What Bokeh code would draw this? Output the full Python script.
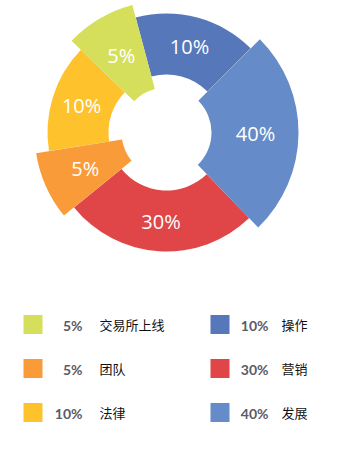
import math
from bokeh.plotting import figure
from bokeh.models import Range1d, ColumnDataSource
from bokeh.core.properties import value
from bokeh.embed import file_html
from bokeh.resources import INLINE

# ---- data (clockwise from the top-left lime slice) ----
names = ["交易所上线", "操作", "发展", "营销", "团队", "法律"]
percents = [5, 10, 40, 30, 5, 10]
sweeps = [31, 60, 91, 95, 30, 53]  # angular size of each slice as drawn (degrees)
colors = ["#D5DF5B", "#5677B9", "#658BC8", "#E04547", "#F99B39", "#FEC22D"]
exploded = [True, False, True, False, True, False]
legend_order = [0, 4, 5, 1, 3, 2]  # column 1 then column 2

# ---- layout constants (page pixel coordinates) ----
W, H = 346, 448
PAGE_H = 464
OFF = 0  # page offset of the plot frame
CX, CY = 166, 132
R_IN, R_OUT = 58, 119
R_IN_X, R_OUT_X = 45, 132
R_LABEL = 89
START_CW = -46  # degrees clockwise from 12 o'clock


def py(y_img):
    return PAGE_H - y_img


p = figure(width=W, height=H, output_backend="svg", toolbar_location=None,
           x_range=Range1d(OFF, OFF + W), y_range=Range1d(PAGE_H - OFF - H, PAGE_H - OFF),
           min_border=0, outline_line_color=None)
p.axis.visible = False
p.grid.visible = False
p.background_fill_color = "white"
p.border_fill_color = "white"

starts, ends, mids = [], [], []
acc = START_CW
for s in sweeps:
    starts.append(acc)
    ends.append(acc + s)
    mids.append(acc + s / 2)
    acc += s

for pass_exploded in (False, True):
    idx = [i for i in range(len(names)) if exploded[i] == pass_exploded]
    src = ColumnDataSource(dict(
        x=[CX] * len(idx), y=[py(CY)] * len(idx),
        start=[math.radians(90 - starts[i]) for i in idx],
        end=[math.radians(90 - ends[i]) for i in idx],
        color=[colors[i] for i in idx],
    ))
    p.annular_wedge(x="x", y="y",
                    inner_radius=R_IN_X if pass_exploded else R_IN,
                    outer_radius=R_OUT_X if pass_exploded else R_OUT,
                    start_angle="start", end_angle="end", direction="clock",
                    fill_color="color", line_color=None, source=src)

lab_src = ColumnDataSource(dict(
    x=[CX + R_LABEL * math.sin(math.radians(m)) for m in mids],
    y=[py(CY) + R_LABEL * math.cos(math.radians(m)) for m in mids],
    t=[f"{v}%" for v in percents],
))
p.text(x="x", y="y", text="t", source=lab_src, text_color="white",
       text_font=value("Open Sans"), text_font_size="20px",
       text_align="center", text_baseline="middle")

# ---- legend ----
row_y = [324, 368, 412]
sq_x = [32.5, 219.5]
pct_right = [82, 268]
name_left = [99, 281]

lx, ly, lc, px_, pt, nx, nt = [], [], [], [], [], [], []
for k, i in enumerate(legend_order):
    col, row = divmod(k, 3)
    lx.append(sq_x[col]); ly.append(py(row_y[row])); lc.append(colors[i])
    px_.append(pct_right[col]); pt.append(f"{percents[i]}%")
    nx.append(name_left[col]); nt.append(names[i])

p.rect(x=lx, y=ly, width=19, height=19, fill_color=lc, line_color=None)
p.text(x=px_, y=[v - 1 for v in ly], text=pt, text_color="#5a5a68",
       text_font=value("Lato"), text_font_style="bold", text_font_size="14px",
       text_align="right", text_baseline="middle")
p.text(x=nx, y=ly, text=nt, text_color="#111111",
       text_font=value("Noto Sans CJK SC"), text_font_size="13px",
       text_align="left", text_baseline="middle")

open("out.html", "w").write(file_html(p, INLINE))
